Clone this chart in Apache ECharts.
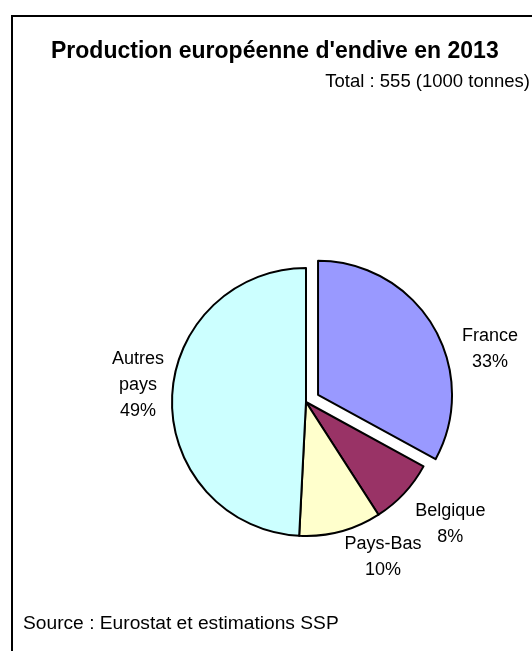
<!DOCTYPE html>
<html>
<head>
<meta charset="utf-8">
<script src="https://cdn.jsdelivr.net/npm/echarts@6/dist/echarts.min.js"></script>
<style>
html,body{margin:0;padding:0;background:#fff;}
#chart{width:532px;height:651px;}
</style>
</head>
<body>
<div id="chart"></div>
<script>
// Data (1000 tonnes, estimated from shares of the 555 total)
const categories = ['France', 'Belgique', 'Pays-Bas', 'Autres pays'];
const values = [183, 44, 55, 273];
const colors = ['#9999FF', '#993366', '#FFFFCC', '#CCFFFF'];
const titleText = "Production européenne d'endive en 2013";
const subtitleText = 'Total : 555 (1000 tonnes)';
const sourceText = 'Source : Eurostat et estimations SSP';

const FONT = 'Liberation Sans, Arial, sans-serif';
// small per-label nudges (style), relative to the automatic outside position
const labelNudge = {'France': [3, 28], 'Belgique': [-6, 24], 'Pays-Bas': [-5, 16], 'Autres pays': [21, -13]};

const chart = echarts.init(document.getElementById('chart'), null, {renderer: 'canvas'});

const data = categories.map((c, i) => ({
  name: c,
  value: values[i],
  selected: c === 'France',
  itemStyle: {color: colors[i]}
}));

chart.setOption({
  backgroundColor: '#fff',
  animation: false,
  graphic: [
    {type: 'rect', shape: {x: 12, y: 16, width: 600, height: 700},
     style: {fill: 'none', stroke: '#000', lineWidth: 2}, silent: true},
    {type: 'text', left: 23, top: 614,
     style: {text: sourceText, font: '19.2px ' + FONT, fill: '#000'}},
    {type: 'text', right: 2, top: 72,
     style: {text: subtitleText, font: '18.5px ' + FONT, fill: '#000'}}
  ],
  title: {
    text: titleText,
    left: 51,
    top: 40.5,
    padding: 0,
    textStyle: {fontFamily: FONT, fontSize: 23, fontWeight: 'bold', color: '#000'}
  },
  series: [{
    type: 'pie',
    center: [306, 402],
    radius: 134,
    startAngle: 90,
    clockwise: true,
    selectedMode: 'single',
    selectedOffset: 14,
    percentPrecision: 0,
    avoidLabelOverlap: false,
    itemStyle: {borderColor: '#000', borderWidth: 2},
    emphasis: {disabled: true},
    label: {
      position: 'outside',
      formatter: p => {
        const lines = p.name.split(' ').concat([p.percent + '%']);
        return lines.map(l => '{t|' + l + '}').join('\n');
      },
      rich: {t: {width: 80, align: 'center', fontFamily: FONT, fontSize: 18, color: '#000', lineHeight: 26}}
    },
    labelLine: {show: false, length: 10, length2: 0},
    labelLayout: params => {
      const n = labelNudge[categories[params.dataIndex]] || [0, 0];
      return {dx: n[0], dy: n[1]};
    },
    data: data
  }]
});
</script>
</body>
</html>
